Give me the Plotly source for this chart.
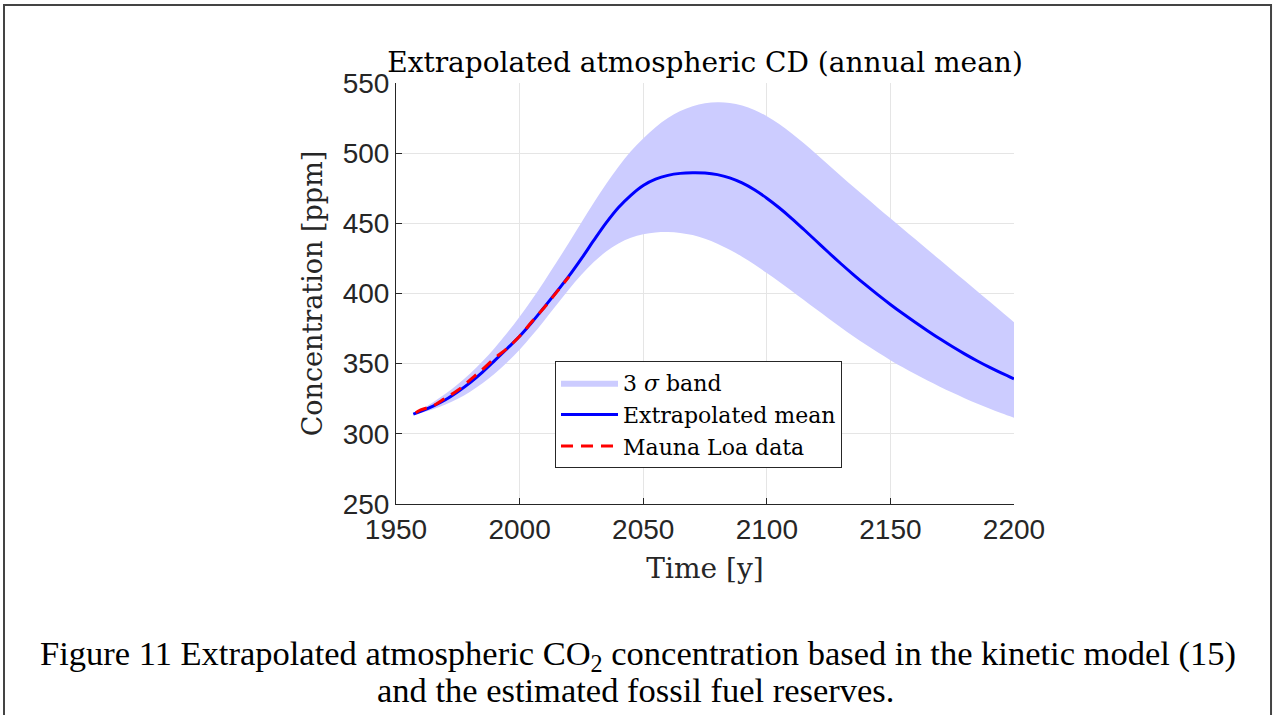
import plotly.graph_objects as go

# ---- data ----
years = [1957, 1960, 1965, 1970, 1975, 1980, 1985, 1990, 1995, 2000, 2005, 2010, 2015, 2020,
         2025, 2030, 2035, 2040, 2045, 2050, 2055, 2060, 2065, 2070, 2075, 2080, 2085, 2090,
         2095, 2100, 2105, 2110, 2115, 2120, 2125, 2130, 2135, 2140, 2145, 2150, 2155, 2160,
         2165, 2170, 2175, 2180, 2185, 2190, 2195, 2200]
mean_ppm = [314, 316, 319.8, 324.3, 330, 336.5, 344, 352.3, 360.8, 369.5, 379.5, 390.3, 401.3, 412.5,
            424.8, 437.8, 450.3, 461.3, 470, 477, 481.5, 484.2, 485.6, 486, 485.8, 484.7, 482.4, 478.8,
            473.9, 467.9, 461.1, 453.6, 445.6, 437.4, 429.2, 421.2, 413.5, 406.1, 399, 392.2, 385.7, 379.5,
            373.5, 367.7, 362.2, 357, 352.1, 347.5, 343.2, 339.2]
upper_ppm = [314, 317, 322.5, 328.5, 335.3, 343, 351.7, 361.4, 372, 383.5, 395.8, 408.8, 422.4, 436.4,
             450.6, 464.6, 478, 490.4, 501.3, 510.5, 518.5, 525, 530, 533.5, 535.5, 536.2, 535.8, 534,
             530.8, 526.3, 520.7, 514.2, 507, 499.4, 491.6, 483.8, 476.1, 468.5, 461, 453.6, 446.2, 438.8,
             431.4, 424, 416.6, 409.2, 401.8, 394.4, 387, 379.6]
lower_ppm = [314, 315, 317.6, 320.9, 325, 330, 336, 343, 351, 360, 370, 380.8, 392, 403,
             413.3, 422.4, 429.9, 435.7, 439.8, 442.3, 443.5, 443.8, 443.2, 441.6, 439, 435.5, 431.2, 426.2,
             420.6, 414.6, 408.4, 401.9, 395.3, 388.7, 382.2, 375.8, 369.6, 363.6, 357.9, 352.5, 347.4, 342.6,
             338, 333.6, 329.4, 325.4, 321.6, 318, 314.6, 311.4]

ml_years = [1958, 1960, 1965, 1970, 1975, 1980, 1985, 1990, 1995, 2000, 2005, 2010, 2015, 2020]
ml_ppm = [315, 317, 320, 325.5, 331, 338.5, 346, 354, 361, 369.5, 380, 390, 401, 412]

x_ticks = [1950, 2000, 2050, 2100, 2150, 2200]
y_ticks = [250, 300, 350, 400, 450, 500, 550]

serif = "DejaVu Serif"
caption_font = "Liberation Serif"
sans = "Liberation Sans"

fig = go.Figure()
fig.add_trace(go.Scatter(x=years, y=lower_ppm, mode="lines", line=dict(width=0, shape="spline"),
                         showlegend=False, hoverinfo="skip"))
fig.add_trace(go.Scatter(x=years, y=upper_ppm, mode="lines", line=dict(width=0, shape="spline"),
                         fill="tonexty", fillcolor="rgb(204,204,255)", name="3 <i>σ</i> band"))
fig.add_trace(go.Scatter(x=years, y=mean_ppm, mode="lines",
                         line=dict(color="#0000ff", width=3, shape="spline"),
                         name="Extrapolated mean"))
fig.add_trace(go.Scatter(x=ml_years, y=ml_ppm, mode="lines",
                         line=dict(color="#ff0000", width=3, dash="12px,8px", shape="spline"),
                         name="Mauna Loa data"))

axis_common = dict(showgrid=True, gridcolor="#e5e5e5", gridwidth=1,
                   showline=True, linecolor="#262626", linewidth=1,
                   ticks="inside", ticklen=6, tickcolor="#262626",
                   tickfont=dict(family=sans, size=28, color="#262626"),
                   zeroline=False, mirror=False)

fig.update_xaxes(range=[1950, 2200], tickvals=x_ticks, **axis_common,
                 title=dict(text="Time [y]", font=dict(family=serif, size=28, color="#262626"),
                            standoff=14))
fig.update_yaxes(range=[250, 550], tickvals=y_ticks, **axis_common,
                 title=dict(text="Concentration [ppm]", font=dict(family=serif, size=27, color="#262626"),
                            standoff=12))

fig.update_layout(
    width=1277, height=715,
    margin=dict(l=396, r=263, t=83, b=211),
    paper_bgcolor="white", plot_bgcolor="white",
    title=dict(text="Extrapolated atmospheric CD (annual mean)",
               font=dict(family=serif, size=28, color="black"),
               xref="paper", x=0.5, xanchor="center", y=0.913, yanchor="middle"),
    legend=dict(x=0.2573, y=0.3397, xanchor="left", yanchor="top",
                bgcolor="white", bordercolor="#262626", borderwidth=1,
                font=dict(family=serif, size=22, color="black"),
                traceorder="normal", tracegroupgap=0, itemwidth=57),
    shapes=[dict(type="rect", xref="paper", yref="paper", x0=-0.6343, x1=1.4159,
                 y0=-1.0, y1=1.1853, line=dict(color="#444444", width=2), layer="above")],
    annotations=[
        dict(text="Figure 11 Extrapolated atmospheric CO<sub>2</sub> concentration based in the kinetic model (15)",
             xref="paper", yref="paper", x=0.3916, y=-0.3587, xanchor="center", yanchor="middle",
             showarrow=False, font=dict(family=caption_font, size=34.5, color="black")),
        dict(text="and the estimated fossil fuel reserves.",
             xref="paper", yref="paper", x=0.3868, y=-0.4418, xanchor="center", yanchor="middle",
             showarrow=False, font=dict(family=caption_font, size=34.5, color="black")),
    ],
)

fig.write_html("out.html")
